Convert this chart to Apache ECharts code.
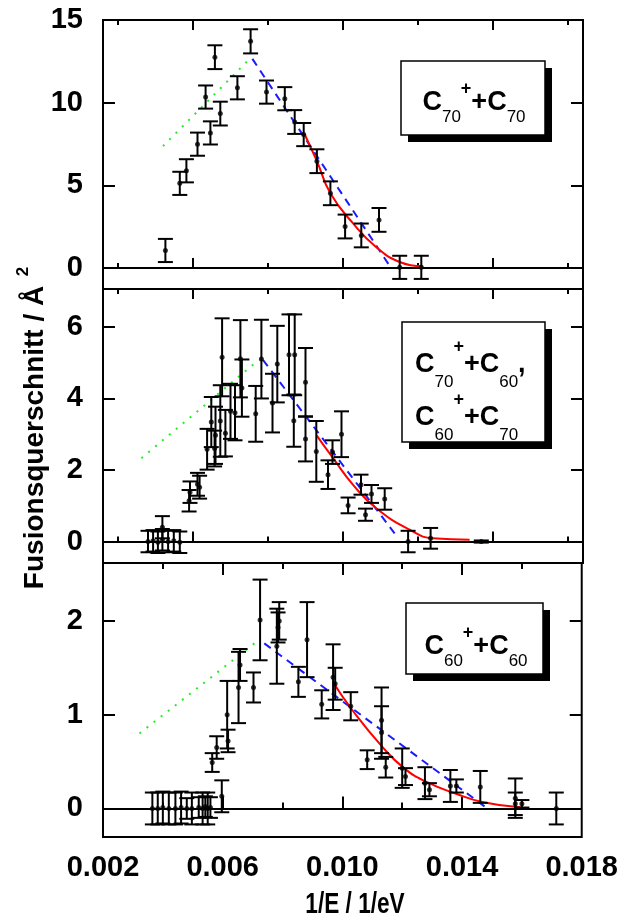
<!DOCTYPE html>
<html>
<head>
<meta charset="utf-8">
<script src="https://cdn.jsdelivr.net/npm/echarts@6/dist/echarts.min.js"></script>
<style>
  html, body { margin: 0; background: #fff; }
  #chart { width: 621px; height: 924px; }
</style>
</head>
<body>
<div id="chart"></div>
<script>
var xMin = 0.002, xMax = 0.018;

// Panel 1: C70+ + C70
var topX   = [0.00408, 0.00456, 0.00478, 0.00515, 0.00542, 0.00558, 0.00573, 0.00591, 0.00648, 0.00692, 0.00745,
              0.00806, 0.00839, 0.00869, 0.00913, 0.00958, 0.01007, 0.01061, 0.0112, 0.01189, 0.01261];
var topY   = [1.06, 5.12, 5.88, 7.49, 10.34, 8.17, 12.75, 9.34, 10.90, 13.71, 10.64,
              10.24, 8.83, 8.07, 6.46, 4.52, 2.51, 1.97, 2.91, 0.04, 0.04];
var topErr = [0.7, 0.7, 0.7, 0.7, 0.7, 0.7, 0.72, 0.72, 0.7, 0.73, 0.7,
              0.7, 0.72, 0.7, 0.72, 0.72, 0.72, 0.72, 0.72, 0.7, 0.7];
var topGreenX = [0.0040, 0.00689],  topGreenY = [7.37, 12.65];
var topBlueX  = [0.00698, 0.01153], topBlueY  = [12.65, 0.2];
var topRedX   = [0.00872, 0.00913, 0.00958, 0.01033, 0.01111, 0.01189, 0.01265];
var topRedY   = [8.09, 6.46, 4.52, 2.71, 1.26, 0.36, 0.1];

// Panel 2: C70+ + C60, C60+ + C70
var midX   = [0.0035, 0.00367, 0.00383, 0.00398, 0.00417, 0.00436, 0.00456, 0.00398, 0.00487, 0.0049, 0.00515,
              0.00522, 0.00547, 0.00561, 0.00575, 0.00572, 0.00591, 0.00597, 0.00608, 0.00625, 0.0064, 0.00658,
              0.00663, 0.00709, 0.00728, 0.00765, 0.00781, 0.0082, 0.00839, 0.00836, 0.00875, 0.00875, 0.00911,
              0.0095, 0.00965, 0.00995, 0.01017, 0.0106, 0.01075, 0.01095, 0.01139, 0.01217, 0.01292, 0.01461];
var midY   = [0, 0.02, -0.02, 0.05, 0, 0.02, -0.02, 0.40, 1.14, 1.38, 1.6,
              1.52, 2.58, 3.34, 2.97, 2.6, 3.37, 5.15, 3.03, 3.64, 3.6, 5.11,
              4.29, 3.57, 5.1, 3.87, 4.96, 5.22, 5.22, 3.38, 4.45, 2.87, 2.52,
              1.87, 2.5, 3.0, 1.01, 1.59, 0.75, 1.33, 1.19, 0, 0.09, 0];
var midErr = [0.3, 0.3, 0.3, 0.3, 0.3, 0.3, 0.3, 0.31, 0.3, 0.3, 0.32,
              0.32, 0.57, 0.7, 0.8, 0.5, 1.0, 1.09, 0.65, 0.77, 0.77, 1.08,
              0.8, 0.78, 1.1, 0.82, 1.07, 1.13, 1.13, 0.73, 0.96, 0.63, 0.85,
              0.4, 0.33, 0.64, 0.22, 0.28, 0.17, 0.25, 0.3, 0.3, 0.29, 0.03];
var midGreenX = [0.00328, 0.00711], midGreenY = [2.33, 5.02];
var midBlueX  = [0.00733, 0.01172], midBlueY  = [5.08, 0.23];
var midRedX   = [0.00912, 0.00967, 0.01033, 0.01111, 0.01222, 0.013, 0.01422];
var midRedY   = [2.97, 2.33, 1.59, 0.93, 0.33, 0.09, 0.05];

// Panel 3: C60+ + C60
var botX   = [0.00365, 0.00383, 0.004, 0.0042, 0.00442, 0.00461, 0.0048, 0.00497, 0.0052, 0.00533, 0.00542, 0.0055, 0.00559,
              0.00597, 0.00565, 0.0058, 0.00618, 0.00615, 0.00653, 0.00658, 0.00703, 0.00725, 0.00781,
              0.00789, 0.00785, 0.00853, 0.00882, 0.00931, 0.00969, 0.00976, 0.01028, 0.01083, 0.01131,
              0.01131, 0.01145, 0.012, 0.01211, 0.01276, 0.01291, 0.01361, 0.01381, 0.01461, 0.01578,
              0.01578, 0.016, 0.01715];
var botY   = [0, 0, 0.01, 0, 0, 0.01, 0, 0, 0.01, 0, 0.02, 0, 0.01,
              0.13, 0.49, 0.65, 0.72, 1.0, 1.29, 1.53, 1.29, 2.01, 1.73,
              2.0, 1.93, 1.35, 1.8, 1.11, 1.4, 1.33, 1.09, 0.52, 0.94,
              0.81, 0.44, 0.43, 0.34, 0.27, 0.2, 0.24, 0.24, 0.23, 0.11,
              0.05, 0.05, 0];
var botErr = [0.17, 0.17, 0.17, 0.17, 0.17, 0.17, 0.11, 0.17, 0.11, 0.17, 0.11, 0.17, 0.11,
              0.17, 0.1, 0.12, 0.12, 0.36, 0.38, 0.17, 0.16, 0.43, 0.4,
              0.2, 0.16, 0.16, 0.4, 0.15, 0.35, 0.17, 0.15, 0.1, 0.35,
              0.28, 0.11, 0.21, 0.09, 0.17, 0.07, 0.17, 0.07, 0.17, 0.21,
              0.12, 0.04, 0.17];
var botGreenX = [0.00322, 0.00706], botGreenY = [0.80, 1.76];
var botBlueX  = [0.00739, 0.01489], botBlueY  = [1.76, -0.01];
var botRedX   = [0.0097, 0.01033, 0.01133, 0.01206, 0.01283, 0.01378, 0.01467, 0.016];
var botRedY   = [1.34, 1.05, 0.66, 0.43, 0.28, 0.16, 0.07, 0.01];

// ticks
var yTicksTop = [0, 5, 10, 15];
var yTicksMid = [0, 2, 4, 6];
var yTicksBot = [0, 1, 2];
var xMajorUpper = [0.005, 0.010, 0.015];
var xMinorUpper = [0.0025, 0.0075, 0.0125, 0.0175];
var xMajorLower = [0.006, 0.010, 0.014];
var xMinorLower = [0.004, 0.008, 0.012, 0.016];
var xLabels = [0.002, 0.006, 0.010, 0.014, 0.018];

var FONT = 'Liberation Sans, Arial, sans-serif';

function zip(a, b, c) {
  return a.map(function (v, k) { return c ? [v, b[k], c[k]] : [v, b[k]]; });
}

function renderErr(params, api) {
  var x = api.value(0), y = api.value(1), e = api.value(2);
  var t = api.coord([x, y + e]), b = api.coord([x, y - e]);
  var hw = 7.5;
  var st = { stroke: '#000', lineWidth: 2, fill: null };
  return { type: 'group', children: [
    { type: 'line', shape: { x1: t[0], y1: t[1], x2: b[0], y2: b[1] }, style: st },
    { type: 'line', shape: { x1: t[0] - hw, y1: t[1], x2: t[0] + hw, y2: t[1] }, style: st },
    { type: 'line', shape: { x1: b[0] - hw, y1: b[1], x2: b[0] + hw, y2: b[1] }, style: st }
  ]};
}

var grids = [
  { left: 103, top: 20, width: 480, height: 269 },
  { left: 103, top: 289, width: 480, height: 274 },
  { left: 103, top: 563, width: 480, height: 274 }
];
grids.forEach(function (g) { g.show = true; g.borderColor = '#000'; g.borderWidth = 2; g.backgroundColor = 'transparent'; });

function xAx(g, pos, ticks, len, labels) {
  var ax = {
    type: 'value', gridIndex: g, position: pos, min: xMin, max: xMax,
    axisLine: { show: false }, splitLine: { show: false },
    axisTick: { show: true, inside: true, length: len, customValues: ticks, lineStyle: { color: '#000', width: 2 } },
    axisLabel: { show: false }
  };
  if (labels) {
    ax.axisLabel = { show: true, customValues: labels, margin: 16, color: '#000', fontSize: 29, fontWeight: 'bold',
      fontFamily: FONT, showMinLabel: true, showMaxLabel: true,
      formatter: function (v) { return v.toFixed(3); } };
  }
  return ax;
}

function yAx(g, pos, min, max, ticks, labels) {
  var ax = {
    type: 'value', gridIndex: g, position: pos, min: min, max: max,
    axisLine: { show: false }, splitLine: { show: false },
    axisTick: { show: true, inside: true, length: 12, customValues: ticks, lineStyle: { color: '#000', width: 2 } },
    axisLabel: { show: false }
  };
  if (labels) {
    ax.axisLabel = { show: true, customValues: ticks, margin: 20, color: '#000', fontSize: 29, fontWeight: 'bold',
      fontFamily: FONT, showMinLabel: true, showMaxLabel: true };
  }
  return ax;
}

var xAxes = [], yAxes = [];
[[xMajorUpper, xMinorUpper, 10, 5], [xMajorUpper, xMinorUpper, 10, 5], [xMajorLower, xMinorLower, 12, 6]].forEach(function (t, g) {
  xAxes.push(xAx(g, 'bottom', t[0], t[2], g === 2 ? xLabels : null));
  xAxes.push(xAx(g, 'bottom', t[1], t[3]));
  xAxes.push(xAx(g, 'top', t[0], t[2]));
  xAxes.push(xAx(g, 'top', t[1], t[3]));
});
var yRanges = [[-1.27, 15, yTicksTop], [-0.6, 7.06, yTicksMid], [-0.304, 2.617, yTicksBot]];
yRanges.forEach(function (r, g) {
  yAxes.push(yAx(g, 'left', r[0], r[1], r[2], true));
  yAxes.push(yAx(g, 'right', r[0], r[1], r[2], false));
});

function panelSeries(g, xs, ys, es, gx, gy, bx, by, rx, ry) {
  var xi = 4 * g, yi = 2 * g;
  return [
    { type: 'line', xAxisIndex: xi, yAxisIndex: yi, data: zip(gx, gy), symbol: 'none', silent: true,
      lineStyle: { color: '#22ee22', width: 2, type: [2, 7] }, z: 2 },
    { type: 'line', xAxisIndex: xi, yAxisIndex: yi, data: zip(bx, by), symbol: 'none', silent: true,
      lineStyle: { color: '#1a1aff', width: 2, type: [8, 6] }, z: 2 },
    { type: 'line', xAxisIndex: xi, yAxisIndex: yi, data: zip(rx, ry), symbol: 'none', smooth: true, silent: true,
      lineStyle: { color: '#ff0000', width: 2 }, z: 3 },
    { type: 'custom', xAxisIndex: xi, yAxisIndex: yi, data: zip(xs, ys, es), renderItem: renderErr,
      encode: { x: 0, y: 1 }, silent: true, z: 4 },
    { type: 'scatter', xAxisIndex: xi, yAxisIndex: yi, data: zip(xs, ys), symbolSize: 5, silent: true,
      itemStyle: { color: '#000' }, z: 5,
      markLine: { silent: true, symbol: 'none', label: { show: false },
        lineStyle: { color: '#000', width: 2, type: 'solid' }, data: [{ yAxis: 0 }] } }
  ];
}

var series = [].concat(
  panelSeries(0, topX, topY, topErr, topGreenX, topGreenY, topBlueX, topBlueY, topRedX, topRedY),
  panelSeries(1, midX, midY, midErr, midGreenX, midGreenY, midBlueX, midBlueY, midRedX, midRedY),
  panelSeries(2, botX, botY, botErr, botGreenX, botGreenY, botBlueX, botBlueY, botRedX, botRedY)
);

var rich = {
  c: { fontSize: 27, fontWeight: 'bold', fontFamily: FONT, color: '#000', lineHeight: 46, verticalAlign: 'middle' },
  s: { fontSize: 17, fontFamily: FONT, color: '#000', lineHeight: 17, verticalAlign: 'bottom' },
  p: { fontSize: 18, fontWeight: 'bold', fontFamily: FONT, color: '#000', lineHeight: 17, verticalAlign: 'top' }
};
var rich2 = {
  c: { fontSize: 27, fontWeight: 'bold', fontFamily: FONT, color: '#000', lineHeight: 53, verticalAlign: 'middle' },
  s: rich.s, p: rich.p
};

function box(x, y, w, h) {
  return [
    { type: 'rect', shape: { x: x + 7, y: y + 7, width: w, height: h }, style: { fill: '#000' }, z: 10 },
    { type: 'rect', shape: { x: x, y: y, width: w, height: h }, style: { fill: '#fff', stroke: '#000', lineWidth: 1.5 }, z: 11 }
  ];
}

var graphics = [].concat(
  box(401, 61, 144, 74),
  box(402, 322, 143, 120),
  box(406, 603, 137, 71),
  [
    { type: 'text', x: 474, y: 103, z: 12, style: { text: '{c|C}{s|70}{p|+}{c|+C}{s|70}', rich: rich, align: 'center', verticalAlign: 'middle' } },
    { type: 'text', x: 415, y: 391, z: 12, style: { text: '{c|C}{s|70}{p|+}{c|+C}{s|60}{c|,}\n{c|C}{s|60}{p|+}{c|+C}{s|70}', rich: rich2, align: 'left', verticalAlign: 'middle' } },
    { type: 'text', x: 476, y: 647, z: 12, style: { text: '{c|C}{s|60}{p|+}{c|+C}{s|60}', rich: rich, align: 'center', verticalAlign: 'middle' } },
    { type: 'text', x: 355, y: 905, scaleX: 0.78, z: 12,
      style: { text: '1/E / 1/eV', fontSize: 29, fontWeight: 'bold', fontFamily: FONT, fill: '#000', align: 'center', verticalAlign: 'middle' } },
    { type: 'text', x: 35, y: 428, rotation: Math.PI / 2, z: 12,
      style: { text: '{t|Fusionsquerschnitt / Å}{q|  2}', align: 'center', verticalAlign: 'middle',
        rich: {
          t: { fontSize: 28, fontWeight: 'bold', fontFamily: FONT, color: '#000', lineHeight: 40, verticalAlign: 'middle' },
          q: { fontSize: 17, fontWeight: 'bold', fontFamily: FONT, color: '#000', lineHeight: 17, verticalAlign: 'top' }
        } } }
  ]
);

var chart = echarts.init(document.getElementById('chart'), null, { renderer: 'canvas' });
chart.setOption({
  animation: false,
  backgroundColor: '#fff',
  grid: grids,
  xAxis: xAxes,
  yAxis: yAxes,
  series: series,
  graphic: graphics
});
</script>
</body>
</html>
